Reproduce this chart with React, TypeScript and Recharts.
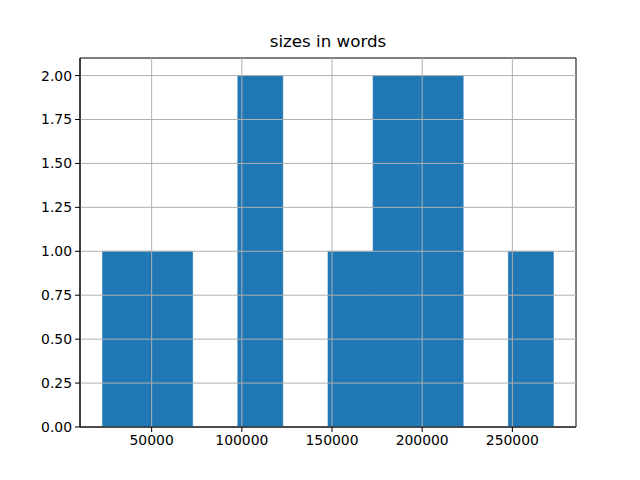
import * as React from "react";
import {
  BarChart,
  Bar,
  XAxis,
  YAxis,
  ReferenceLine,
  ReferenceArea,
} from "recharts";

// histogram bins (centres) and counts
const binCenters = [35278, 60278, 85278, 110278, 135278, 160278, 185278, 210278, 235278, 260278];
const counts = [1, 1, 0, 2, 0, 1, 2, 2, 0, 1];
const xTicks = [50000, 100000, 150000, 200000, 250000];
const yTicks = [0, 0.25, 0.5, 0.75, 1, 1.25, 1.5, 1.75, 2];
const xDomain = [10278, 285278];
const yDomain = [0, 2.1];

const data = binCenters.map((c, i) => ({ x: c, count: counts[i] }));

const tickStyle = { fontSize: 13.9, fill: "#000", fontFamily: "DejaVu Sans" };

export default function App() {
  return (
    <div style={{ position: "absolute", left: 0, top: 0, width: 640, height: 480, background: "#fff" }}>
      <div
        style={{
          position: "absolute",
          left: 80,
          width: 496,
          top: 31,
          textAlign: "center",
          fontFamily: "DejaVu Sans",
          fontSize: 16.7,
          color: "#000",
        }}
      >
        sizes in words
      </div>
      <BarChart
        width={640}
        height={480}
        data={data}
        barCategoryGap={0}
        barGap={0}
        margin={{ top: 58, right: 64, left: 20, bottom: 23 }}
      >
        <XAxis
          dataKey="x"
          type="number"
          domain={xDomain}
          ticks={xTicks}
          allowDataOverflow
          height={30}
          tick={tickStyle}
          tickSize={5}
          tickMargin={3}
          axisLine={{ stroke: "#000" }}
          tickLine={{ stroke: "#000" }}
        />
        <YAxis
          type="number"
          domain={yDomain}
          ticks={yTicks}
          allowDataOverflow
          width={60}
          tick={tickStyle}
          tickSize={5}
          tickMargin={3}
          tickFormatter={(v: number) => v.toFixed(2)}
          axisLine={{ stroke: "#000" }}
          tickLine={{ stroke: "#000" }}
        />
        <Bar
          dataKey="count"
          fill="#1f77b4"
          stroke="#1f77b4"
          strokeWidth={0.6}
          isAnimationActive={false}
        />
        {xTicks.map((t) => (
          <ReferenceLine key={"x" + t} x={t} stroke="#b0b0b0" strokeWidth={1} />
        ))}
        {yTicks.map((t) => (
          <ReferenceLine key={"y" + t} y={t} stroke="#b0b0b0" strokeWidth={1} />
        ))}
        <ReferenceArea
          x1={xDomain[0]}
          x2={xDomain[1]}
          y1={yDomain[0]}
          y2={yDomain[1]}
          fill="none"
          fillOpacity={0}
          stroke="#000"
          strokeWidth={1}
        />
      </BarChart>
    </div>
  );
}
